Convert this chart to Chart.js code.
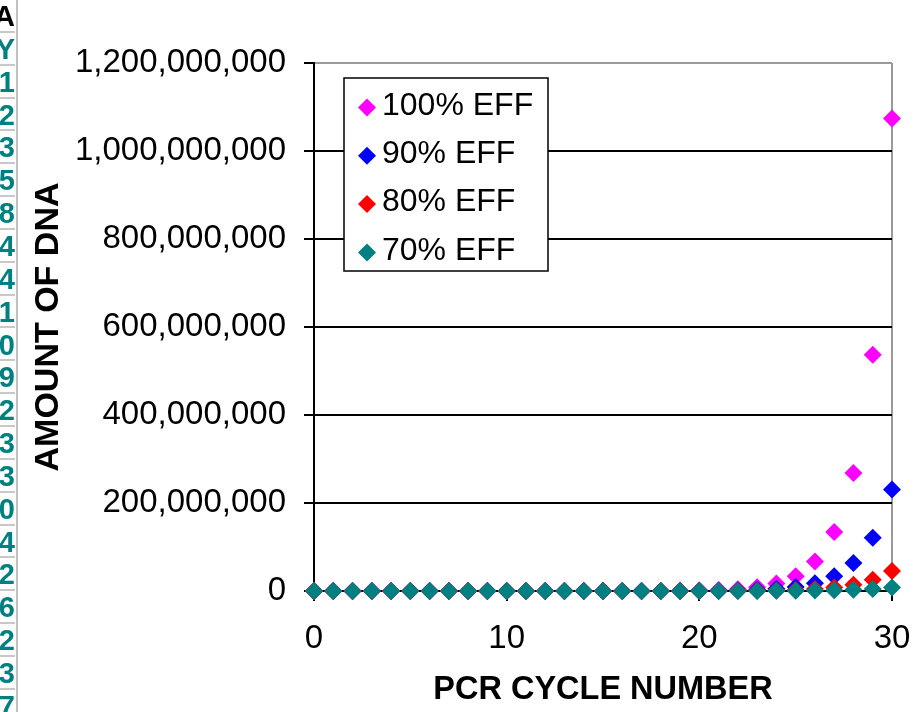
<!DOCTYPE html>
<html>
<head>
<meta charset="utf-8">
<script src="https://cdn.jsdelivr.net/npm/chart.js@4/dist/chart.umd.min.js"></script>
<style>
  html, body { margin: 0; padding: 0; background: #fff; }
  #wrap { position: relative; width: 922px; height: 712px; overflow: hidden; }
  #chart { position: absolute; left: 0; top: 0; }
  #sheet { position: absolute; left: 0; top: 0; width: 18px; height: 712px; overflow: hidden;
           border-right: 2px solid #c0c0c0; box-sizing: border-box; }
  .cell { position: absolute; left: -20px; width: 35px; height: 32.85px; box-sizing: border-box;
          border-bottom: 2px solid #c8c8c8; text-align: right;
          font: bold 29px "Liberation Sans", Arial, sans-serif; color: #008080; line-height: 32px; }
  .cell.hdr { color: #000; }
</style>
</head>
<body>
<div id="wrap">
  <canvas id="chart" width="922" height="712"></canvas>
  <div id="sheet"></div>
</div>
<script>
// PCR cycle numbers
const cycles = [0,1,2,3,4,5,6,7,8,9,10,11,12,13,14,15,16,17,18,19,20,21,22,23,24,25,26,27,28,29,30];

// Amount of DNA after each cycle, per amplification efficiency
const eff100 = [1,2,4,8,16,32,64,128,256,512,1024,2048,4096,8192,16384,32768,65536,131072,262144,524288,
  1048576,2097152,4194304,8388608,16777216,33554432,67108864,134217728,268435456,536870912,1073741824];
const eff90 = [1,1.9,3.61,6.859,13.03,24.76,47.05,89.39,169.84,322.69,613.11,1164.90,2213.31,4205.30,7990.07,
  15181.13,28844.14,54803.87,104127.35,197841.97,375899.73,714209.50,1356998.04,2578296.28,4898762.93,
  9307649.57,17684534.18,33600614.94,63841168.39,121298219.94,230466617.88];
const eff80 = [1,1.8,3.24,5.832,10.50,18.90,34.01,61.22,110.20,198.36,357.05,642.68,1156.83,2082.30,3748.13,
  6746.64,12143.95,21859.12,39346.41,70823.53,127482.36,229468.25,413042.85,743477.14,1338258.84,
  2408865.92,4335958.66,7804725.59,14048506.06,25287310.91,45517159.64];
const eff70 = [1,1.7,2.89,4.913,8.35,14.20,24.14,41.03,69.76,118.59,201.60,342.72,582.62,990.46,1683.78,
  2862.42,4866.12,8272.40,14063.08,23907.24,40642.31,69091.93,117456.29,199675.69,339448.67,
  577062.74,981006.66,1667711.32,2835109.25,4819685.73,8193465.74];

const seriesLabels = ['100% EFF', '90% EFF', '80% EFF', '70% EFF'];
const seriesColors = ['#ff00ff', '#0000ff', '#ff0000', '#008080'];
const seriesValues = [eff100, eff90, eff80, eff70];

const yTicks = [0, 200000000, 400000000, 600000000, 800000000, 1000000000, 1200000000];
const xTicks = [0, 10, 20, 30];

// worksheet column peeking out on the left edge
const sheetCells = ['A','Y','1','2','3','5','8','4','4','1','0','9','2','3','3','0','4','2','6','2','3','7'];

const sheet = document.getElementById('sheet');
sheetCells.forEach((t, i) => {
  const d = document.createElement('div');
  d.className = 'cell' + (i === 0 ? ' hdr' : '');
  d.style.top = (i * 32.85) + 'px';
  d.textContent = t;
  sheet.appendChild(d);
});

const FONT = '"Liberation Sans", Arial, sans-serif';

// legend box drawn inside the plot area
const insideLegend = {
  id: 'insideLegend',
  afterDraw(chart) {
    const ctx = chart.ctx;
    const area = chart.chartArea;
    const x0 = area.left + 30, y0 = area.top + 15, w = 204, h = 193;
    ctx.save();
    ctx.fillStyle = '#fff';
    ctx.fillRect(x0, y0, w, h);
    ctx.strokeStyle = '#000';
    ctx.lineWidth = 1.5;
    ctx.strokeRect(x0, y0, w, h);
    ctx.font = '32px ' + FONT;
    ctx.textBaseline = 'middle';
    ctx.textAlign = 'left';
    chart.data.datasets.forEach((ds, i) => {
      const cy = y0 + 29.5 + i * 48.3;
      ctx.fillStyle = ds.backgroundColor;
      Chart.helpers.drawPoint(ctx, { pointStyle: 'rectRot', radius: 9, borderWidth: 0 }, x0 + 23, cy);
      ctx.fillStyle = '#000';
      ctx.fillText(ds.label, x0 + 38, cy - 1.5);
    });
    ctx.restore();
  }
};

const datasets = seriesLabels.map((label, i) => ({
  label,
  data: cycles.map((c, j) => ({ x: c, y: seriesValues[i][j] })),
  backgroundColor: seriesColors[i],
  borderColor: seriesColors[i],
  pointStyle: 'rectRot',
  pointRadius: 9,
  pointBorderWidth: 0,
  showLine: false,
  clip: false,
  order: seriesLabels.length - i
}));

new Chart(document.getElementById('chart'), {
  type: 'scatter',
  data: { datasets },
  options: {
    responsive: false,
    devicePixelRatio: 1,
    animation: false,
    layout: { padding: { left: 0, top: 63, right: 30, bottom: 0 } },
    plugins: { legend: { display: false }, tooltip: { enabled: false } },
    scales: {
      x: {
        type: 'linear',
        min: 0, max: 30,
        afterBuildTicks: axis => { axis.ticks = xTicks.map(v => ({ value: v })); },
        afterFit: axis => { axis.height = 121; axis.paddingLeft = 0; axis.paddingRight = 0; },
        ticks: { color: '#000', font: { family: FONT, size: 33 }, padding: 18, maxRotation: 0 },
        grid: {
          drawOnChartArea: true,
          color: c => (c.tick && c.tick.value === 30) ? '#9a9a9a' : 'rgba(0,0,0,0)',
          tickColor: '#000',
          lineWidth: 2,
          tickLength: 10
        },
        border: { color: '#000', width: 2 },
        title: {
          display: true, text: 'PCR CYCLE NUMBER', color: '#000',
          font: { family: FONT, size: 32.5, weight: 'bold' },
          padding: { top: 0, bottom: 2 }
        }
      },
      y: {
        type: 'linear',
        min: 0, max: 1200000000,
        afterBuildTicks: axis => { axis.ticks = yTicks.map(v => ({ value: v })); },
        afterFit: axis => { axis.width = 314; axis.paddingTop = 0; axis.paddingBottom = 0; },
        ticks: {
          color: '#000', font: { family: FONT, size: 33 }, padding: 18,
          callback: v => Number(v).toLocaleString('en-US')
        },
        grid: {
          color: c => (c.tick && c.tick.value === 1200000000) ? '#9a9a9a' : '#000',
          tickColor: '#000',
          lineWidth: 2,
          tickLength: 10
        },
        border: { color: '#000', width: 2 },
        title: {
          display: true, text: 'AMOUNT OF DNA', color: '#000',
          font: { family: FONT, size: 34, weight: 'bold' },
          padding: { top: 28, bottom: 0 }
        }
      }
    }
  },
  plugins: [insideLegend]
});
</script>
</body>
</html>
